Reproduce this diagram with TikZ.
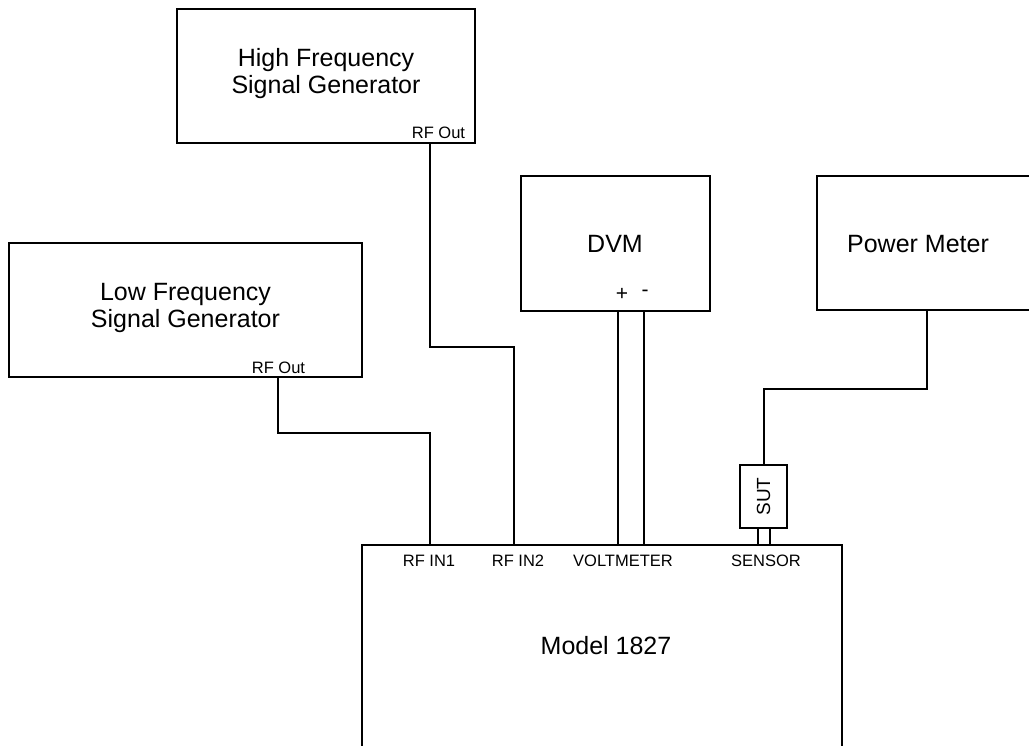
\documentclass[tikz,border=0pt]{standalone}
\usepackage{fontspec}
\setmainfont{Liberation Sans}
\newcommand{\bigtxt}{\fontsize{25}{27}\selectfont}
\newcommand{\smalltxt}{\fontsize{16.5}{18}\selectfont}
\usetikzlibrary{positioning}
\tikzset{
  unit/.style={draw, line width=2pt, inner sep=0pt},
  wire/.style={line width=2pt},
  caption/.style={font=\bigtxt, align=center, inner sep=0pt},
  port/.style={font=\smalltxt, inner sep=0pt},
  pin/.style={font=\fontsize{21}{22}\selectfont, inner sep=0pt},
}
\begin{document}
\begin{tikzpicture}[x=1pt,y=-1pt]
        \useasboundingbox (0,0) rectangle (1029,745);
        \clip (-5,-5) rectangle (1029,745);
        \node[unit, minimum width=298pt, minimum height=134pt] (hf) at (326,75.5) {};
        \node[unit, minimum width=353pt, minimum height=134pt] (lf) at (185.5,310) {};
        \node[unit, minimum width=189pt, minimum height=135pt] (dvm) at (615.5,243.5) {};
        \node[unit, minimum width=400pt, minimum height=134pt] (pm) at (1017,243) {};
        \node[unit, minimum width=480pt, minimum height=255pt] (model) at (602,672.5) {};
        \node[unit, minimum width=47pt, minimum height=63pt, font=\fontsize{19}{20}\selectfont] (sut) at (763.5,496.5) {\rotatebox{90}{SUT}};
        \node[caption] (hftxt) at (326,74) {High Frequency\\Signal Generator};
        \node[caption] (lftxt) at (185.5,308) {Low Frequency\\Signal Generator};
        \node[caption] (dvmtxt) at (615,244) {DVM};
        \node[caption] (pmtxt) at (918,244) {Power Meter};
        \node[caption] (modeltxt) at (606,646) {Model 1827};
        \node[port] (hfport) at (438.5,132.5) {RF Out};
        \node[port] (lfport) at (278.5,368) {RF Out};
        \node[pin] (plus) at (622,294) {+};
        \node[pin] (minus) at (645,293) {-};
        \node[port] (in1txt) at (429,561) {RF IN1};
        \node[port] (in2txt) at (518,561) {RF IN2};
        \node[port] (volttxt) at (623,561) {VOLTMETER};
        \node[port] (senstxt) at (766,561) {SENSOR};
        \coordinate (hfout) at (430,142.5);
        \coordinate (lfout) at (278,377);
        \coordinate (dvmp) at (618,311);
        \coordinate (dvmm) at (644,311);
        \coordinate (pmout) at (927,310);
        \coordinate (in1) at (430,545);
        \coordinate (in2) at (514,545);
        \coordinate (vp) at (618,545);
        \coordinate (vm) at (644,545);
        \coordinate (sens1) at (758,545);
        \coordinate (sens2) at (770,545);
        \draw[wire] (hfout) -- ++(0,204.5) -| (in2);
        \draw[wire] (lfout) -- ++(0,56) -| (in1);
        \draw[wire] (dvmp) -- (vp);
        \draw[wire] (dvmm) -- (vm);
        \draw[wire] (pmout) -- ++(0,79) -| (sut.north);
        \draw[wire] (sut.south -| sens1) -- (sens1);
        \draw[wire] (sut.south -| sens2) -- (sens2);
\end{tikzpicture}
\end{document}
